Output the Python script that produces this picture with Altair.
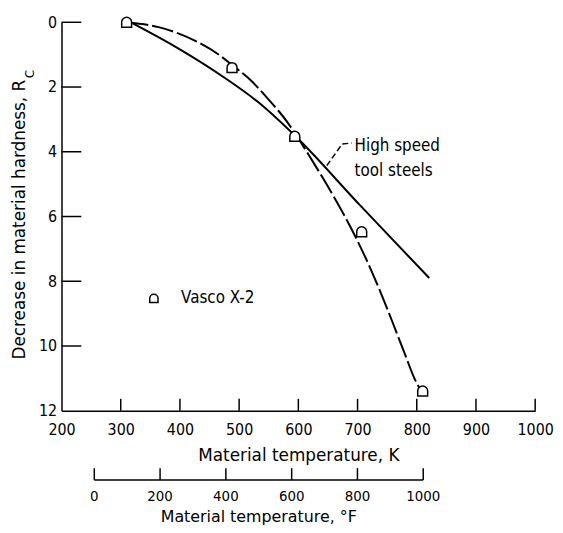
import altair as alt
import pandas as pd

FONT = "DejaVu Sans Condensed"
TFONT = "DejaVu Sans"

# Vasco X-2 data points (K, decrease in hardness Rc)
vasco_k = [310, 488, 594, 707, 810]
vasco_y = [0.0, 1.40, 3.52, 6.47, 11.39]

# Dashed fit curve through Vasco X-2
dash_k = [310, 364, 431, 464, 488, 520, 548, 582, 595, 621, 665, 693, 724, 749, 780, 796, 806]
dash_y = [0.0, 0.15, 0.62, 0.98, 1.32, 1.80, 2.35, 3.10, 3.45, 4.20, 5.55, 6.50, 7.70, 8.80, 10.25, 11.0, 11.35]

# Solid curve: high speed tool steels
solid_k = [317, 392, 476, 531, 594, 704, 821]
solid_y = [0.0, 0.75, 1.72, 2.45, 3.50, 5.65, 7.90]

# Axis ticks
k_ticks = [300, 400, 500, 600, 700, 800, 900, 1000]
k_labels = [200, 300, 400, 500, 600, 700, 800, 900, 1000]
y_ticks = [0, 2, 4, 6, 8, 10]
y_labels = [0, 2, 4, 6, 8, 10, 12]
f_ticks = [0, 200, 400, 600, 800, 1000]

# Annotation leader
lead_k = [648, 674, 690]
lead_y = [4.43, 3.76, 3.73]

SHAPE = "M-1,1L-1,0A1,1,0,0,1,1,0L1,1Z"

xscale = alt.Scale(domain=[200, 1000], nice=False, zero=False)
yscale = alt.Scale(domain=[0, 12], reverse=True, nice=False, zero=False)

W, H = 478, 392

x_axis = alt.Axis(
    values=k_labels, format="d", title="Material temperature, K", ticks=False, tickSize=0,
    labelPadding=11, labelFontSize=16, labelFont=FONT, labelColor="black",
    titleFont=TFONT, titleFontSize=17, titleFontWeight="normal", titleColor="black",
    titlePadding=10, domainColor="black", domainWidth=1.5, grid=False, labelFlush=False)
y_axis = alt.Axis(
    values=y_labels, format="d", title=None, ticks=False, tickSize=0, labelPadding=5,
    labelFontSize=16, labelFont=FONT, labelColor="black", domainColor="black",
    domainWidth=1.5, grid=False, labelFlush=False)


def X(f="K"):
    return alt.X(f + ":Q", scale=xscale, axis=x_axis, title="Material temperature, K")


def Y(f="Y"):
    return alt.Y(f + ":Q", scale=yscale, axis=y_axis, title=None)


solid_df = pd.DataFrame({"K": solid_k, "Y": solid_y})
dash_df = pd.DataFrame({"K": dash_k, "Y": dash_y})
pts_df = pd.DataFrame({"K": vasco_k, "Y": vasco_y})

base_line = alt.Chart(solid_df).mark_line(color="black", strokeWidth=2, interpolate="monotone").encode(
    x=X(), y=Y())

dash_line = alt.Chart(dash_df).mark_line(color="black", strokeWidth=2, strokeDash=[22, 4],
                                         interpolate="monotone").encode(x=X(), y=Y())

points = alt.Chart(pts_df).mark_point(shape=SHAPE, size=100, filled=True, fill="white", stroke="black",
                                      strokeWidth=1.5, opacity=1).encode(x=X(), y=Y())

kt = alt.Chart(pd.DataFrame({"K": k_ticks})).mark_rule(color="black", strokeWidth=1.5).encode(
    x=X(), y=alt.value(H - 12), y2=alt.value(H))

yt = alt.Chart(pd.DataFrame({"Y": y_ticks})).mark_rule(color="black", strokeWidth=1.5).encode(
    y=Y(), x=alt.value(0), x2=alt.value(20))

# Fahrenheit secondary axis
f_df = pd.DataFrame({"F": f_ticks})
f_df["K"] = (f_df["F"] + 459.67) * 5.0 / 9.0
f_df["lab"] = f_df["F"].astype(str)
FY = 462
f_line = alt.Chart(pd.DataFrame({"K": [f_df["K"].min()], "K2": [f_df["K"].max()]})).mark_rule(
    color="black", strokeWidth=1.5).encode(x=X(), x2="K2:Q", y=alt.value(FY))
f_tk = alt.Chart(f_df).mark_rule(color="black", strokeWidth=1.5).encode(
    x=X(), y=alt.value(FY - 12), y2=alt.value(FY))
f_lab = alt.Chart(f_df).mark_text(font=FONT, fontSize=15, color="black", baseline="middle").encode(
    x=X(), y=alt.value(FY + 16), text="lab:N")
f_title = alt.Chart(pd.DataFrame({"K": [(500 + 459.67) * 5.0 / 9.0], "t": ["Material temperature, °F"]})).mark_text(
    font=TFONT, fontSize=16, color="black", baseline="middle").encode(
    x=X(), y=alt.value(FY + 37), text="t:N")

# Y title with subscript
one = pd.DataFrame({"a": [0]})
ytitle = alt.Chart(one).mark_text(font=TFONT, fontSize=17, color="black", angle=270, align="right",
                                   baseline="middle", text="Decrease in material hardness, R").encode(
    x=alt.value(-42), y=alt.value(58))
ysub = alt.Chart(one).mark_text(font=TFONT, fontSize=12, color="black", angle=270, align="right",
                                 baseline="middle", text="C").encode(
    x=alt.value(-32), y=alt.value(48))

# Annotations
lead = alt.Chart(pd.DataFrame({"K": lead_k, "Y": lead_y, "o": [0, 1, 2]})).mark_line(
    color="black", strokeWidth=1.5, strokeDash=[6, 3]).encode(x=X(), y=Y(), order="o:O")
ann = alt.Chart(pd.DataFrame({"K": [695, 695], "Y": [3.82, 4.59], "t": ["High speed", "tool steels"]})).mark_text(
    font=FONT, fontSize=17, color="black", align="left", baseline="middle").encode(x=X(), y=Y(), text="t:N")

leg_pt = alt.Chart(pd.DataFrame({"K": [356], "Y": [8.53]})).mark_point(
    shape=SHAPE, size=70, filled=True, fill="white", stroke="black", strokeWidth=1.5, opacity=1).encode(
    x=X(), y=Y())
leg_tx = alt.Chart(pd.DataFrame({"K": [402], "Y": [8.53], "t": ["Vasco X-2"]})).mark_text(
    font=FONT, fontSize=17, color="black", align="left", baseline="middle").encode(x=X(), y=Y(), text="t:N")

chart = alt.layer(base_line, dash_line, points, kt, yt, f_line, f_tk, f_lab, f_title,
                  ytitle, ysub, lead, ann, leg_pt, leg_tx).properties(
    width=W, height=H,
    autosize=alt.AutoSizeParams(type="none"),
    padding={"left": 54, "top": 12, "right": 20, "bottom": 125},
    background="white",
).configure_view(stroke=None)

chart.save("out.html", embed_options={"renderer": "svg", "actions": False})
